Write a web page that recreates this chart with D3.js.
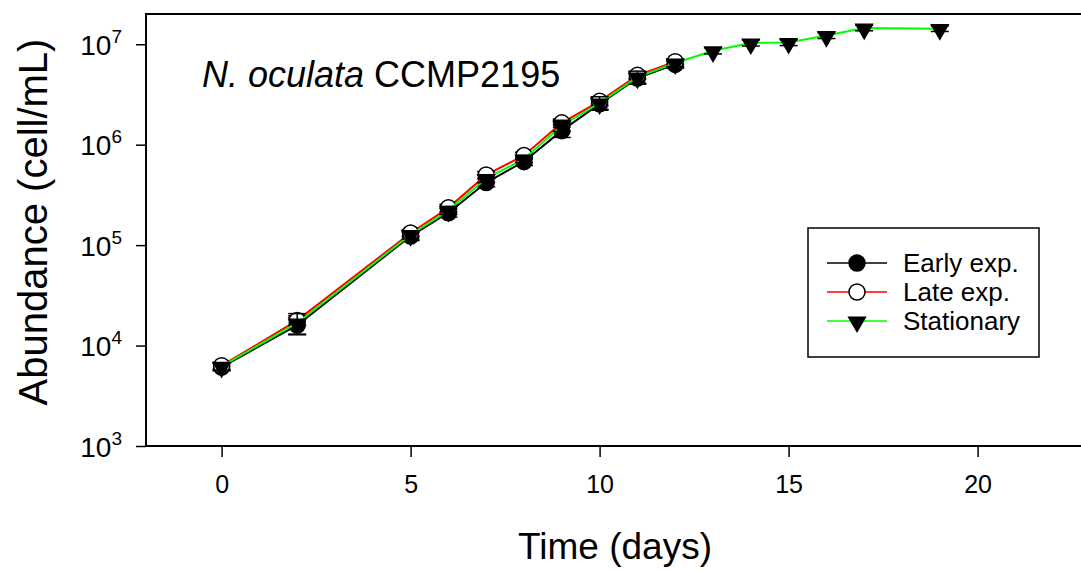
<!DOCTYPE html>
<html lang="en">
<head>
  <meta charset="UTF-8">
  <title>N. oculata growth</title>
  <script src="https://cdn.jsdelivr.net/npm/d3@7"></script>
  <style>
    body { margin: 0; background: #fff; }
    svg { font-family: Arial, "Liberation Sans", sans-serif; }
  </style>
</head>
<body>
  <svg width="1081" height="570"></svg>
  <script>
    // data
    var daysExp = [0, 2, 5, 6, 7, 8, 9, 10, 11, 12]
    var earlyExp = [6100, 16000, 123000, 210000, 420000, 680000, 1380000, 2550000, 4600000, 6300000]
    var earlyErr = [500, 3000, 12000, 20000, 40000, 60000, 200000, 300000, 500000, 500000]
    var lateExp = [6300, 17800, 132000, 235000, 500000, 780000, 1650000, 2700000, 4900000, 6700000]
    var lateErr = [500, 2000, 10000, 20000, 40000, 60000, 150000, 250000, 400000, 400000]
    var daysStat = [0, 2, 5, 6, 7, 8, 9, 10, 11, 12, 13, 14, 15, 16, 17, 19]
    var stationary = [6200, 16800, 127000, 222000, 460000, 720000, 1550000, 2600000, 4700000, 6500000, 8600000, 10300000, 10400000, 12200000, 14500000, 14300000]
    var statErr = [500, 4000, 12000, 20000, 40000, 60000, 200000, 400000, 700000, 500000, 600000, 700000, 700000, 800000, 900000, 900000]
    var xTicks = [0, 5, 10, 15, 20]
    var yTicks = [1e3, 1e4, 1e5, 1e6, 1e7]

    var svg = d3.select("svg")
    var plotL = 146, plotT = 14, plotB = 446, plotR = 1091

    var x = d3.scaleLinear().domain([-2, 23]).range([plotL, plotR])
    var y = d3.scaleLog().domain([1e3, 2e7]).range([plotB, plotT])

    // frame
    svg.append("rect")
      .attr("x", plotL).attr("y", plotT)
      .attr("width", plotR - plotL).attr("height", plotB - plotT)
      .attr("fill", "none").attr("stroke", "#000").attr("stroke-width", 2)

    var xAxis = svg.append("g")
      .attr("transform", "translate(0," + plotB + ")")
      .call(d3.axisBottom(x).tickValues(xTicks).tickSize(11).tickSizeOuter(0).tickPadding(18))
    xAxis.select(".domain").remove()
    xAxis.selectAll("line").attr("stroke-width", 1.5)
    xAxis.selectAll("text").attr("font-size", 25).attr("fill", "#000")

    var yAxis = svg.append("g")
      .attr("transform", "translate(" + plotL + ",0)")
      .call(d3.axisLeft(y).tickValues(yTicks).tickSize(10).tickSizeOuter(0).tickFormat(""))
    yAxis.select(".domain").remove()
    yAxis.selectAll("line").attr("stroke-width", 1.5)
    yAxis.selectAll(".tick").each(function (d) {
      var t = d3.select(this).append("text")
        .attr("x", -24).attr("y", 10)
        .attr("text-anchor", "end").attr("fill", "#000")
        .attr("font-size", 28)
      t.append("tspan").text("10")
      t.append("tspan").attr("dy", -12).attr("font-size", 19).text(Math.round(Math.log10(d)))
    })

    // axis titles
    svg.append("text")
      .attr("x", 615).attr("y", 559)
      .attr("text-anchor", "middle").attr("font-size", 37)
      .text("Time (days)")
    svg.append("text")
      .attr("transform", "translate(47,222) rotate(-90)")
      .attr("text-anchor", "middle").attr("font-size", 40)
      .text("Abundance (cell/mL)")

    // annotation
    var ann = svg.append("text").attr("x", 202).attr("y", 87).attr("font-size", 36)
    ann.append("tspan").attr("font-style", "italic").text("N. oculata")
    ann.append("tspan").text(" CCMP2195")

    var series = [
      { name: "Early exp.", days: daysExp, vals: earlyExp, err: earlyErr, color: "#000000", marker: "dot" },
      { name: "Late exp.", days: daysExp, vals: lateExp, err: lateErr, color: "#ff0000", marker: "open" },
      { name: "Stationary", days: daysStat, vals: stationary, err: statErr, color: "#00ff00", marker: "tri" }
    ]

    var tri = d3.symbol().type(d3.symbolTriangle).size(160)

    function drawMarker(g, kind, cx, cy) {
      if (kind === "tri") {
        g.append("path").attr("d", tri())
          .attr("transform", "translate(" + cx + "," + (cy + 1) + ") rotate(180)")
          .attr("fill", "#000")
      } else {
        g.append("circle").attr("cx", cx).attr("cy", cy).attr("r", 8)
          .attr("fill", kind === "dot" ? "#000" : "#fff")
          .attr("stroke", "#000").attr("stroke-width", 1.5)
      }
    }

    var line = d3.line().x(d => x(d[0])).y(d => y(d[1]))

    series.forEach(function (s) {
      var pts = s.days.map((d, i) => [d, s.vals[i], s.err[i]])
      var g = svg.append("g")
      g.append("path").datum(pts).attr("d", line)
        .attr("fill", "none").attr("stroke", s.color).attr("stroke-width", 2)
      // error bars
      pts.forEach(function (p) {
        var cx = x(p[0])
        var y0 = y(p[1] - p[2]), y1 = y(p[1] + p[2])
        g.append("line").attr("x1", cx).attr("x2", cx).attr("y1", y0).attr("y2", y1)
          .attr("stroke", "#000").attr("stroke-width", 1.5)
        ;[y0, y1].forEach(function (yy) {
          g.append("line").attr("x1", cx - 9).attr("x2", cx + 9).attr("y1", yy).attr("y2", yy)
            .attr("stroke", "#000").attr("stroke-width", 1.5)
        })
      })
      pts.forEach(p => drawMarker(g, s.marker, x(p[0]), y(p[1])))
    })

    // legend
    var lg = svg.append("g")
    lg.append("rect").attr("x", 808).attr("y", 228).attr("width", 231).attr("height", 129)
      .attr("fill", "#fff").attr("stroke", "#000").attr("stroke-width", 1.5)
    series.forEach(function (s, i) {
      var ly = 263 + i * 29
      lg.append("line").attr("x1", 827).attr("x2", 887).attr("y1", ly).attr("y2", ly)
        .attr("stroke", s.color).attr("stroke-width", 1.5)
      drawMarker(lg, s.marker, 857, ly)
      lg.append("text").attr("x", 903).attr("y", ly + 9).attr("font-size", 26).text(s.name)
    })
  </script>
</body>
</html>
